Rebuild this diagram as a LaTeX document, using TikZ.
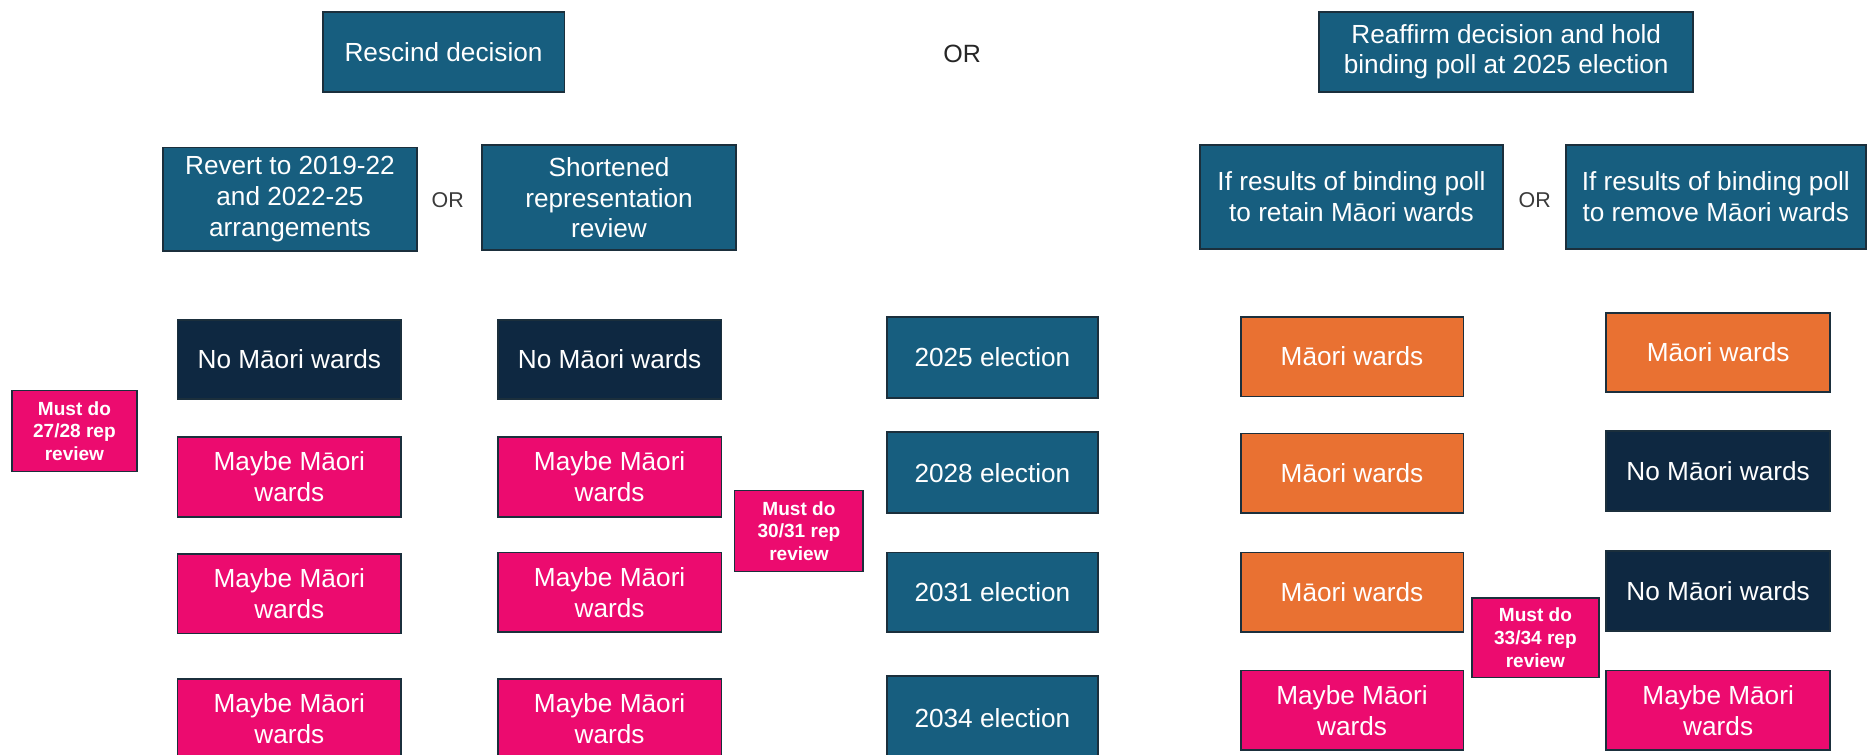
\documentclass[tikz,border=0pt]{standalone}
\usepackage{fontspec}
\setmainfont{Liberation Sans}
\definecolor{cTeal}{HTML}{175E7F}
\definecolor{cNavy}{HTML}{0E2841}
\definecolor{cPink}{HTML}{EC0B6F}
\definecolor{cOrange}{HTML}{E97132}
\definecolor{cEdge}{HTML}{1B2F3C}
\definecolor{cOr}{HTML}{3A3A3A}
\begin{document}
\begin{tikzpicture}[x=0.5pt,y=-0.5pt,
  box/.style={draw=cEdge, line width=0.7pt, text=white, align=center,
    font=\fontsize{11}{13}\selectfont, inner sep=0pt},
  wh/.style 2 args={minimum width=#1*0.5pt, minimum height=#2*0.5pt},
  tealbox/.style={box, fill=cTeal},
  navybox/.style={box, fill=cNavy},
  pinkbox/.style={box, fill=cPink},
  orangebox/.style={box, fill=cOrange},
  mustbox/.style={box, fill=cPink, font=\fontsize{8}{9.5}\selectfont\bfseries},
  orlabel/.style={text=cOr, inner sep=0pt, font=\fontsize{9}{11}\selectfont},
  ortop/.style={text=black!85, inner sep=0pt, font=\fontsize{10.5}{12}\selectfont}]
\useasboundingbox (0,0) rectangle (1568,634);
\clip (0,0) rectangle (1568,634);

% top row
\node[tealbox, wh={203}{67}] (resc) at (372.5,43.5) {Rescind decision};
\node[ortop] (ortopn) at (808,45) {OR};
\node[tealbox, wh={314}{67}, font=\fontsize{11}{12.5}\selectfont] (reaff) at (1265,43.5) {Reaffirm decision and hold\\binding poll at 2025 election};

% second row
\node[tealbox, wh={213}{87}] (revert) at (243.5,167.5) {Revert to 2019-22\\and 2022-25\\arrangements};
\node[orlabel] (orA) at (376,168) {OR};
\node[tealbox, wh={213}{88}] (short) at (511.5,166) {Shortened\\representation\\review};
\node[tealbox, wh={254}{87}] (retain) at (1135,165.5) {If results of binding poll\\to retain Māori wards};
\node[orlabel] (orB) at (1289,168) {OR};
\node[tealbox, wh={252}{87}] (remove) at (1441,165.5) {If results of binding poll\\to remove Māori wards};

% left column
\node[navybox, wh={188}{66}] (l1) at (243,302) {No Māori wards};
\node[pinkbox, wh={188}{67}] (l2) at (243,400.5) {Maybe Māori\\wards};
\node[pinkbox, wh={188}{67}] (l3) at (243,498.5) {Maybe Māori\\wards};
\node[pinkbox, wh={188}{67}] (l4) at (243,603.5) {Maybe Māori\\wards};
\node[mustbox, wh={105}{68}] (must1) at (62.5,362) {Must do\\27/28 rep\\review};

% second column
\node[navybox, wh={188}{66}] (s1) at (512,302) {No Māori wards};
\node[pinkbox, wh={188}{67}] (s2) at (512,400.5) {Maybe Māori\\wards};
\node[pinkbox, wh={188}{67}] (s3) at (512,497.5) {Maybe Māori\\wards};
\node[pinkbox, wh={188}{67}] (s4) at (512,603.5) {Maybe Māori\\wards};
\node[mustbox, wh={108}{68}] (must2) at (671,446) {Must do\\30/31 rep\\review};

% elections
\node[tealbox, wh={177}{68}] (e25) at (833.5,300) {2025 election};
\node[tealbox, wh={177}{68}] (e28) at (833.5,397) {2028 election};
\node[tealbox, wh={177}{67}] (e31) at (833.5,497.5) {2031 election};
\node[tealbox, wh={177}{70}] (e34) at (833.5,603) {2034 election};

% right column 1
\node[orangebox, wh={187}{67}] (r1) at (1135.5,299.5) {Māori wards};
\node[orangebox, wh={187}{67}] (r2) at (1135.5,397.5) {Māori wards};
\node[orangebox, wh={187}{67}] (r3) at (1135.5,497.5) {Māori wards};
\node[pinkbox, wh={187}{67}] (r4) at (1135.5,596.5) {Maybe Māori\\wards};
\node[mustbox, wh={107}{67}] (must3) at (1289.5,535.5) {Must do\\33/34 rep\\review};

% right column 2
\node[orangebox, wh={188}{66}] (q1) at (1443,296) {Māori wards};
\node[navybox, wh={188}{67}] (q2) at (1443,395.5) {No Māori wards};
\node[navybox, wh={188}{67}] (q3) at (1443,496.5) {No Māori wards};
\node[pinkbox, wh={188}{67}] (q4) at (1443,596.5) {Maybe Māori\\wards};
\end{tikzpicture}
\end{document}
